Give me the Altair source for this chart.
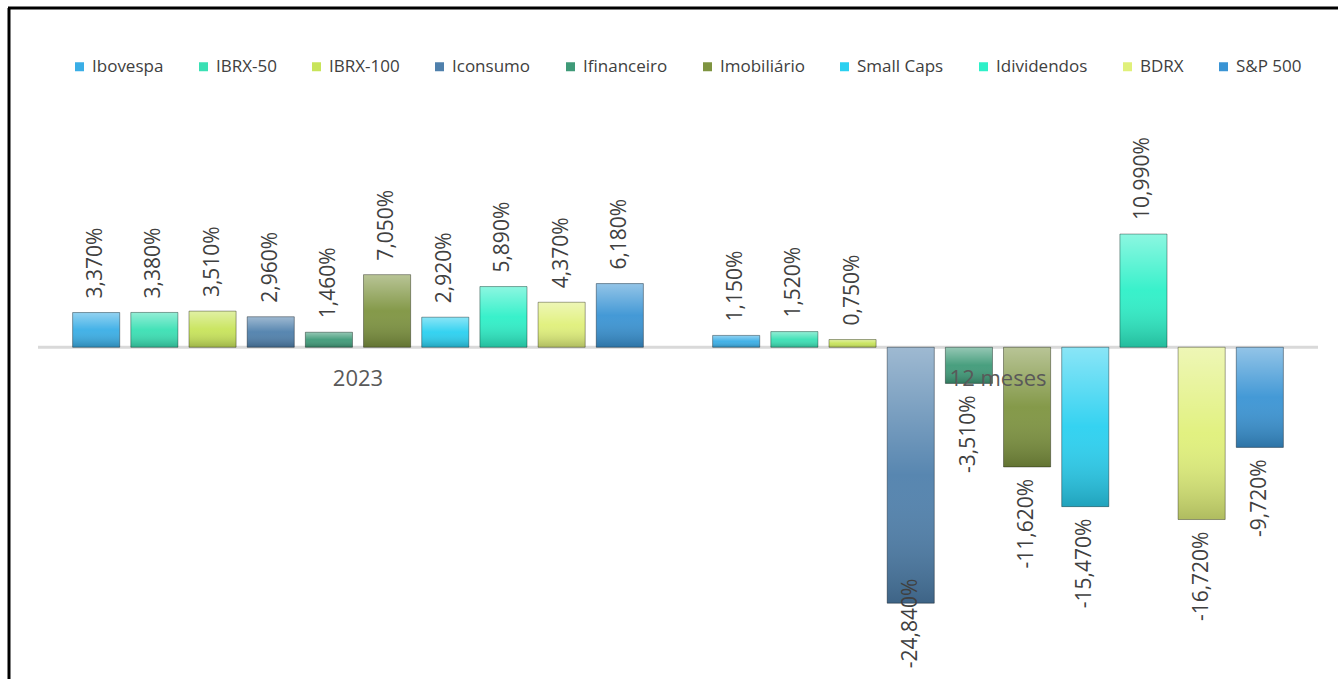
import altair as alt
import pandas as pd

groups = ["2023", "12 meses"]
series = ["Ibovespa", "IBRX-50", "IBRX-100", "Iconsumo", "Ifinanceiro",
          "Imobiliário", "Small Caps", "Idividendos", "BDRX", "S&P 500"]
values_2023 = [3.37, 3.38, 3.51, 2.96, 1.46, 7.05, 2.92, 5.89, 4.37, 6.18]
values_12m = [1.15, 1.52, 0.75, -24.84, -3.51, -11.62, -15.47, 10.99, -16.72, -9.72]
colors = ["#3aaee6", "#3ae0b4", "#c8e45a", "#4f80ac", "#3f9a78",
          "#7e9440", "#2ad0f0", "#2ef0c8", "#e0f07a", "#3a94d4"]

rows = []
for g, vals in zip(groups, [values_2023, values_12m]):
    for s, v in zip(series, vals):
        rows.append({"grupo": g, "indice": s, "valor": v})
df = pd.DataFrame(rows)

FONT = "Open Sans"
W, H = 1280, 579
y_scale = alt.Scale(domain=[-32.2, 24.0], nice=False, zero=False)
x_enc = alt.X("grupo:N", sort=groups, axis=None,
              scale=alt.Scale(paddingInner=0, paddingOuter=0))
xo_enc = alt.XOffset("indice:N", sort=series,
                     scale=alt.Scale(paddingInner=0.19, paddingOuter=0.595))

LABEL_EXPR = ("(datum.valor < 0 ? '-' : '') + "
              "replace(format(abs(datum.valor), '.3f'), '.', ',') + '%'")

base = alt.Chart(df)

zero_line = alt.Chart(pd.DataFrame({"z": [0]})).mark_rule(
    color="#d9d9d9", strokeWidth=3
).encode(y=alt.Y("z:Q", scale=y_scale, axis=None))

bars = base.mark_bar().encode(
    x=x_enc, xOffset=xo_enc,
    y=alt.Y("valor:Q", scale=y_scale, axis=None),
    y2=alt.datum(0),
    color=alt.Color("indice:N", sort=series,
                    scale=alt.Scale(domain=series, range=colors),
                    legend=alt.Legend(title=None, orient="none", direction="horizontal",
                                      legendX=33, legendY=-42,
                                      symbolType="square", symbolSize=81,
                                      symbolStrokeWidth=0,
                                      labelFont=FONT, labelFontSize=17,
                                      labelColor="#404040", columnPadding=31,
                                      labelOffset=4)),
)

shade = base.mark_bar(
    fill=alt.Gradient(gradient="linear", x1=0, y1=0, x2=0, y2=1,
                      stops=[alt.GradientStop(color="rgba(255,255,255,0.45)", offset=0),
                             alt.GradientStop(color="rgba(255,255,255,0.05)", offset=0.5),
                             alt.GradientStop(color="rgba(0,0,0,0.22)", offset=1)]),
    stroke="rgba(0,0,0,0.35)", strokeWidth=1,
).encode(
    x=x_enc, xOffset=xo_enc,
    y=alt.Y("valor:Q", scale=y_scale, axis=None),
    y2=alt.datum(0),
)

lab_pos = base.transform_filter("datum.valor >= 0").transform_calculate(
    txt=LABEL_EXPR
).mark_text(angle=270, align="left", baseline="middle", dx=14,
            font=FONT, fontSize=21, color="#404040").encode(
    x=x_enc, xOffset=xo_enc,
    y=alt.Y("valor:Q", scale=y_scale, axis=None),
    text="txt:N",
)

lab_neg = base.transform_filter("datum.valor < 0").transform_calculate(
    txt=LABEL_EXPR,
    pos="max(datum.valor, -21.3)"
).mark_text(angle=270, align="right", baseline="middle", dx=-12,
            font=FONT, fontSize=21, color="#404040").encode(
    x=x_enc, xOffset=xo_enc,
    y=alt.Y("pos:Q", scale=y_scale, axis=None),
    text="txt:N",
)

cat_labels = alt.Chart(pd.DataFrame({"grupo": groups, "z": [0, 0]})).mark_text(
    font=FONT, fontSize=22, color="#595959", baseline="middle", dy=32
).encode(
    x=x_enc,
    y=alt.Y("z:Q", scale=y_scale, axis=None),
    text="grupo:N",
)

border_left = alt.Chart(pd.DataFrame({"z": [0]})).mark_rule(
    color="#000000", strokeWidth=3
).encode(x=alt.value(-29), y=alt.value(-92), y2=alt.value(H + 10))
border_top = alt.Chart(pd.DataFrame({"z": [0]})).mark_rule(
    color="#000000", strokeWidth=3
).encode(x=alt.value(-30), x2=alt.value(W + 40), y=alt.value(-92))

chart = alt.layer(
    zero_line, bars, shade, lab_pos, lab_neg, cat_labels, border_left, border_top
).properties(
    width=W, height=H,
    autosize=alt.AutoSizeParams(type="none"),
    padding={"left": 38, "top": 100, "right": 20, "bottom": 0},
    background="#ffffff",
).configure_view(stroke=None)

chart.save("out.html", embed_options={"renderer": "svg", "actions": False})
